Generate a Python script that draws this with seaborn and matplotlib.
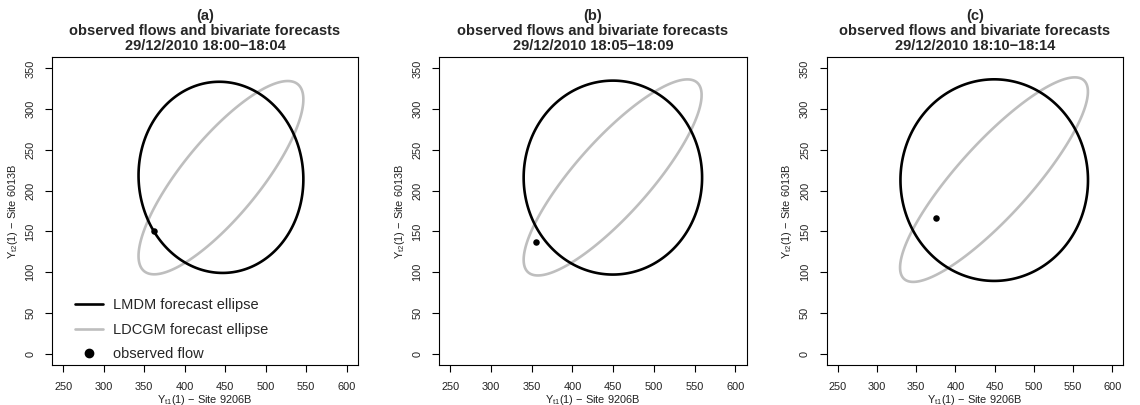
import matplotlib
matplotlib.use("Agg")
import numpy as np
import pandas as pd
import matplotlib.pyplot as plt
from matplotlib.lines import Line2D
import seaborn as sns

# panel headers
panels = ["(a)", "(b)", "(c)"]
periods = ["18:00\u221218:04", "18:05\u221218:09", "18:10\u221218:14"]

# LMDM forecast ellipse: centre, half extents along x / y, correlation
lmdm_cx = [444.7, 449.6, 449.5]
lmdm_cy = [216.3, 216.0, 212.9]
lmdm_hx = [101.8, 109.6, 119.5]
lmdm_hy = [117.3, 119.0, 123.7]
lmdm_rho = [-0.02, 0.0, 0.0]

# LDCGM forecast ellipse
ldcgm_cx = [444.7, 449.3, 449.2]
ldcgm_cy = [215.9, 216.2, 213.5]
ldcgm_hx = [101.8, 109.3, 119.7]
ldcgm_hy = [118.6, 120.3, 125.5]
ldcgm_rho = [0.81, 0.84, 0.86]

# observed flows
obs_x = [362.5, 354.8, 375.7]
obs_y = [150.2, 136.7, 165.8]

x_ticks = [250, 300, 350, 400, 450, 500, 550, 600]
y_ticks = [0, 50, 100, 150, 200, 250, 300, 350]


def ellipse(cx, cy, hx, hy, rho, n=400):
    """Контур эллипса по центру, полуширинам и корреляции."""
    t = np.linspace(0, 2 * np.pi, n)
    x = cx + hx * np.cos(t)
    y = cy + hy * (rho * np.cos(t) + np.sqrt(1 - rho ** 2) * np.sin(t))
    return pd.DataFrame({"x": x, "y": y})


sns.set_style("ticks")
plt.rcParams['font.family'] = ['Liberation Sans', 'DejaVu Sans']
plt.rcParams['mathtext.default'] = 'regular'
plt.rcParams['path.simplify'] = False

W, H = 1140, 405
fig = plt.figure(figsize=(W / 100, H / 100), dpi=100)

lefts = [52, 439, 826.7]
rights = [358, 746.7, 1123.3]
top, bottom = 57, 365
GREY = "#BEBEBE"

for i in range(3):
    ax = fig.add_axes([lefts[i] / W, 1 - bottom / H,
                       (rights[i] - lefts[i]) / W, (bottom - top) / H])

    df_g = ellipse(ldcgm_cx[i], ldcgm_cy[i], ldcgm_hx[i], ldcgm_hy[i], ldcgm_rho[i])
    df_b = ellipse(lmdm_cx[i], lmdm_cy[i], lmdm_hx[i], lmdm_hy[i], lmdm_rho[i])
    sns.lineplot(data=df_g, x="x", y="y", sort=False, estimator=None,
                 color=GREY, lw=1.9, ax=ax)
    sns.lineplot(data=df_b, x="x", y="y", sort=False, estimator=None,
                 color="black", lw=1.9, ax=ax)
    # концы встык, чтобы на замыкании не было утолщения
    for ln in ax.lines:
        ln.set_solid_capstyle('butt')
        ln.set_solid_joinstyle('round')
    sns.scatterplot(x=[obs_x[i]], y=[obs_y[i]], color="black", s=22,
                    edgecolor="black", linewidth=0, ax=ax, zorder=5)

    ax.set_xlim(236, 614)
    ax.set_ylim(-14, 364)
    ax.set_xticks(x_ticks)
    ax.set_yticks(y_ticks)
    ax.tick_params(direction='out', length=5, width=0.8, pad=7,
                   labelsize=7.9, color='black', labelcolor='#222222')
    for lab in ax.get_yticklabels():
        lab.set_rotation(90)
        lab.set_va('center')
    for sp in ax.spines.values():
        sp.set_color('black')
        sp.set_linewidth(0.8)

    ax.set_xlabel('Y$_{t1}$(1) \u2212 Site 9206B', fontsize=7.9, labelpad=1,
                  color='#222222')
    ax.set_ylabel('Y$_{t2}$(1) \u2212 Site 6013B', fontsize=7.9, labelpad=4,
                  color='#222222')
    ax.set_title(f"{panels[i]}\nobserved flows and bivariate forecasts\n29/12/2010 {periods[i]}",
                 fontweight='bold', fontsize=10.5, linespacing=1.1, pad=5)

    if i == 0:
        handles = [Line2D([], [], color='black', lw=1.9),
                   Line2D([], [], color=GREY, lw=1.9),
                   Line2D([], [], color='black', marker='o', ls='none', markersize=6)]
        ax.legend(handles, ["LMDM forecast ellipse", "LDCGM forecast ellipse", "observed flow"],
                  loc='lower left', bbox_to_anchor=(0.075, 0.012), frameon=False,
                  fontsize=10.5, handlelength=1.9, handletextpad=0.7,
                  labelspacing=0.72, borderpad=0, borderaxespad=0)

plt.savefig("out.png", dpi=100)
